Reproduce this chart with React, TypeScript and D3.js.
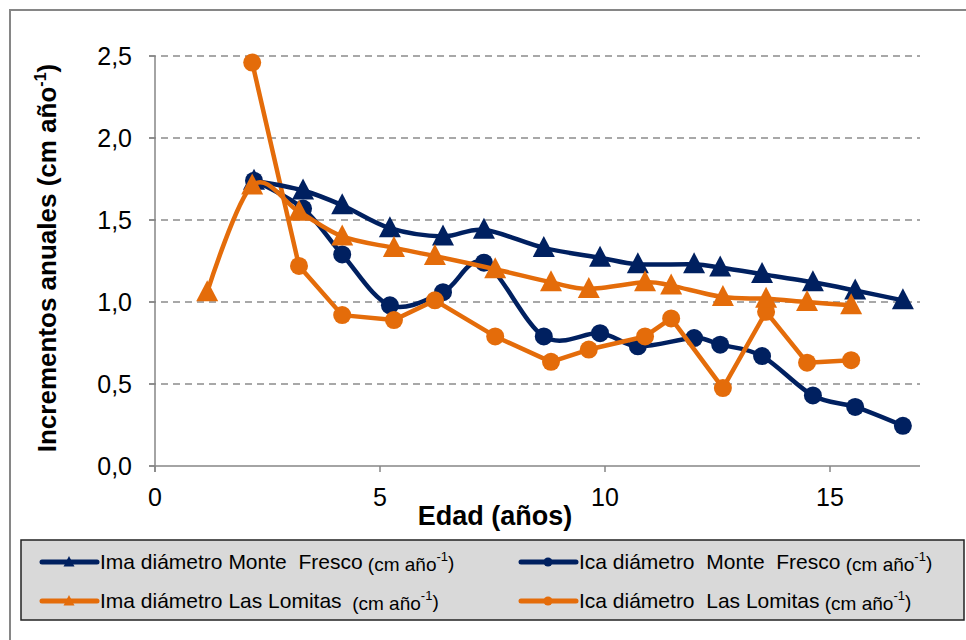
import React from "react";
import * as d3 from "d3";

const imaMFx = [2.2, 3.29, 4.16, 5.22, 6.4, 7.31, 8.64, 9.89, 10.73, 11.98, 12.56, 13.49, 14.62, 15.56, 16.62];
const imaMF = [1.74, 1.68, 1.59, 1.45, 1.40, 1.44, 1.33, 1.27, 1.23, 1.23, 1.21, 1.17, 1.12, 1.07, 1.01];
const icaMFx = [2.2, 3.29, 4.16, 5.22, 6.4, 7.31, 8.64, 9.89, 10.73, 11.98, 12.56, 13.49, 14.62, 15.56, 16.62];
const icaMF = [1.74, 1.57, 1.29, 0.98, 1.06, 1.24, 0.79, 0.81, 0.73, 0.78, 0.74, 0.67, 0.43, 0.36, 0.245];
const imaLLx = [1.16, 2.16, 3.2, 4.16, 5.31, 6.22, 7.56, 8.8, 9.64, 10.89, 11.47, 12.62, 13.58, 14.49, 15.47];
const imaLL = [1.06, 1.71, 1.55, 1.40, 1.33, 1.28, 1.20, 1.12, 1.08, 1.12, 1.10, 1.03, 1.02, 1.00, 0.98];
const icaLLx = [2.16, 3.2, 4.16, 5.31, 6.22, 7.56, 8.8, 9.64, 10.89, 11.47, 12.62, 13.58, 14.49, 15.47];
const icaLL = [2.46, 1.22, 0.92, 0.89, 1.01, 0.79, 0.635, 0.71, 0.79, 0.90, 0.475, 0.94, 0.63, 0.645];

const xTicks = [0, 5, 10, 15];
const yTicks = [0, 0.5, 1.0, 1.5, 2.0, 2.5];

const NAVY = "#002060";
const ORANGE = "#E46C0A";
const GRAY = "#868686";
const FONT = "Liberation Sans, Arial, sans-serif";

type Series = { xs: number[]; ys: number[]; color: string; marker: "tri" | "circ"; smooth: boolean; label: string; unit: string };

const series: Series[] = [
  { xs: imaMFx, ys: imaMF, color: NAVY, marker: "tri", smooth: true, label: "Ima diámetro Monte  Fresco", unit: " (cm año" },
  { xs: icaMFx, ys: icaMF, color: NAVY, marker: "circ", smooth: true, label: "Ica diámetro  Monte  Fresco", unit: " (cm año" },
  { xs: imaLLx, ys: imaLL, color: ORANGE, marker: "tri", smooth: true, label: "Ima diámetro Las Lomitas", unit: "  (cm año" },
  { xs: icaLLx, ys: icaLL, color: ORANGE, marker: "circ", smooth: false, label: "Ica diámetro  Las Lomitas", unit: " (cm año" },
];

const x = d3.scaleLinear().domain([0, 17]).range([155, 920]);
const y = d3.scaleLinear().domain([0, 2.5]).range([466, 56]);

const fmt = (v: number) => v.toFixed(1).replace(".", ",");

function Marker({ kind, cx, cy, color, s = 1 }: { kind: string; cx: number; cy: number; color: string; s?: number }) {
  if (kind === "circ") return <circle cx={cx} cy={cy} r={9 * s} fill={color} />;
  const w = 11 * s, h = 20 * s;
  return <path d={`M${cx},${cy - h * 0.6} L${cx + w},${cy + h * 0.45} L${cx - w},${cy + h * 0.45} Z`} fill={color} />;
}

export default function App() {
  const drawOrder = [1, 3, 0, 2];
  return (
    <svg width={966} height={640} style={{ position: "absolute", left: 0, top: 0, background: "#fff" }} fontFamily={FONT}>
      <rect x={10} y={10} width={970} height={650} fill="none" stroke={GRAY} strokeWidth={2} />
      {yTicks.filter(t => t > 0).map(t => (
        <line key={t} x1={149} x2={920} y1={y(t)} y2={y(t)} stroke="#8c8c8c" strokeWidth={1.5} strokeDasharray="7,5" />
      ))}
      <line x1={155} x2={155} y1={56} y2={472} stroke={GRAY} strokeWidth={1.5} />
      <line x1={149} x2={920} y1={466} y2={466} stroke={GRAY} strokeWidth={1.5} />
      {yTicks.map(t => (
        <g key={t}>
          <line x1={149} x2={155} y1={y(t)} y2={y(t)} stroke={GRAY} strokeWidth={1.5} />
          <text x={132} y={y(t)} dy="0.36em" textAnchor="end" fontSize={25} fill="#000">{fmt(t)}</text>
        </g>
      ))}
      {xTicks.map(t => (
        <g key={t}>
          <line x1={x(t)} x2={x(t)} y1={466} y2={472} stroke={GRAY} strokeWidth={1.5} />
          <text x={x(t)} y={506} textAnchor="middle" fontSize={25} fill="#000">{t}</text>
        </g>
      ))}
      <text x={495} y={525} textAnchor="middle" fontSize={27} fontWeight="bold" fill="#000">Edad (años)</text>
      <text transform="translate(56,258) rotate(-90)" textAnchor="middle" fontSize={26} fontWeight="bold" fill="#000">
        Incrementos anuales (cm año<tspan fontSize={16} dy={-10}>-1</tspan><tspan dy={10}>)</tspan>
      </text>
      {drawOrder.map(i => {
        const s = series[i];
        const pts = s.xs.map((v, j) => [x(v), y(s.ys[j])] as [number, number]);
        const line = d3.line().curve(s.smooth ? d3.curveCatmullRom.alpha(0) : d3.curveLinear);
        return (
          <g key={i}>
            <path d={line(pts) || ""} fill="none" stroke={s.color} strokeWidth={4.5} strokeLinejoin="round" />
            {pts.map((p, j) => <Marker key={j} kind={s.marker} cx={p[0]} cy={p[1]} color={s.color} />)}
          </g>
        );
      })}
      <rect x={21} y={540} width={943} height={80} fill="#D9D9D9" stroke="#222" strokeWidth={1.5} />
      {series.map((s, i) => {
        const r = s.color === NAVY ? 0 : 1;
        const c = s.marker === "tri" ? 0 : 1;
        const lx = c === 0 ? 42 : 521;
        const ly = r === 0 ? 562 : 601;
        return (
          <g key={i}>
            <line x1={lx} x2={lx + 55} y1={ly} y2={ly} stroke={s.color} strokeWidth={5} strokeLinecap="round" />
            <Marker kind={s.marker} cx={lx + 27} cy={ly} color={s.color} s={0.5} />
            <text x={lx + 58} y={ly + 7} fontSize={21} fill="#000" style={{ whiteSpace: "pre" }}>
              {s.label}<tspan fontSize={19} dy={2}>{s.unit}</tspan><tspan fontSize={13} dy={-10}>-1</tspan><tspan fontSize={19} dy={8}>)</tspan>
            </text>
          </g>
        );
      })}
    </svg>
  );
}
